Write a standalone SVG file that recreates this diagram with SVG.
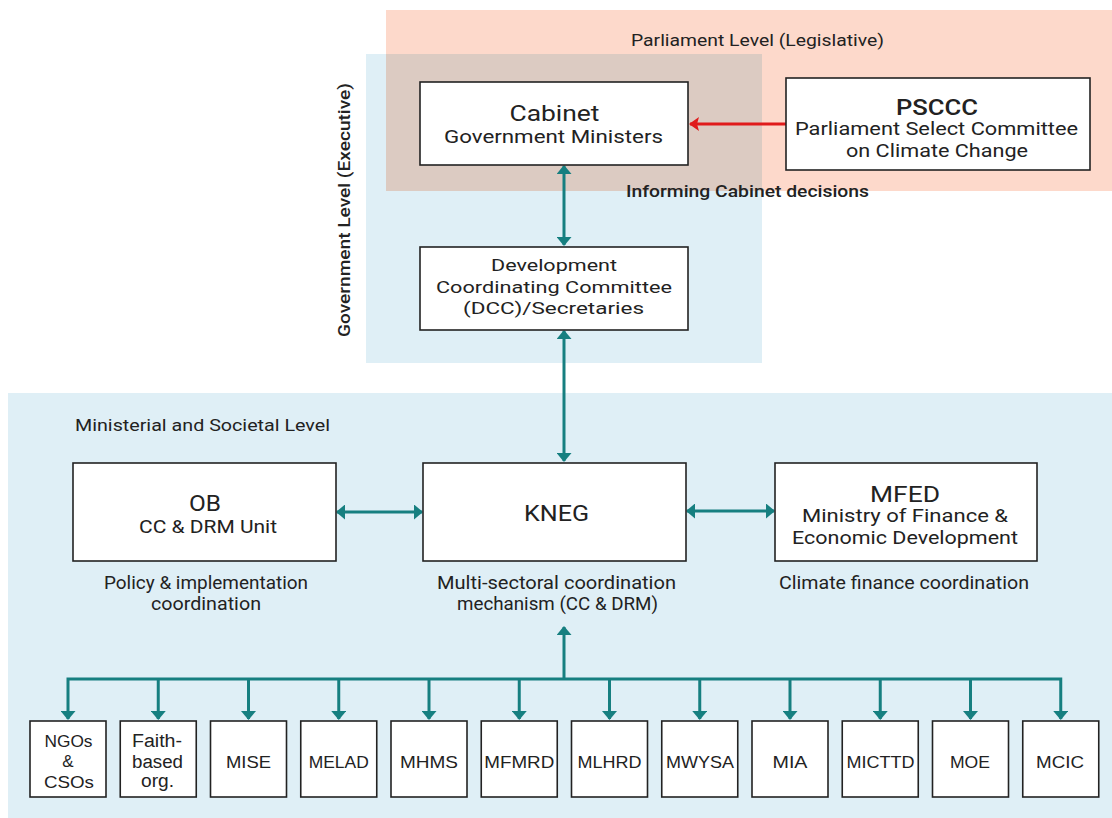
<svg xmlns="http://www.w3.org/2000/svg" width="1112" height="818" viewBox="0 0 1112 818">
<style>
text{font-family:Roboto,"Liberation Sans",sans-serif;fill:#222;text-anchor:middle}
.box{fill:#fff;stroke:#222;stroke-width:1.6}
.t{font-size:22px}
.s{font-size:17.5px}
.c{font-size:16.5px}
.sm{font-size:17px;font-family:"Liberation Sans",Arial,sans-serif}
.con{fill:none;stroke:#167f80;stroke-width:3}
</style>
<defs>
<marker id="ah" viewBox="0 0 9 15" refX="8" refY="7.5" markerWidth="9" markerHeight="15" markerUnits="userSpaceOnUse" orient="auto-start-reverse"><path d="M0,0 L9,7.5 L0,15 z" fill="#167f80"/></marker>
<marker id="ahr" viewBox="0 0 10 14" refX="9" refY="7" markerWidth="10" markerHeight="14" markerUnits="userSpaceOnUse" orient="auto"><path d="M0,0 L10,7 L0,14 L2,7 z" fill="#e01b1b"/></marker>
</defs>
<rect width="1112" height="818" fill="#fff"/>
<g id="regions">
<rect x="386" y="10" width="726" height="181" fill="#fdd9cb"/>
<rect x="366" y="54" width="396" height="309" fill="#dfeff6"/>
<rect x="386" y="54" width="376" height="137" fill="#dccbc2"/>
<rect x="8" y="393" width="1104" height="425" fill="#dfeff6"/>
<text x="757.5" y="46" font-size="17" textLength="253" lengthAdjust="spacingAndGlyphs">Parliament Level (Legislative)</text>
<text transform="translate(350,210) rotate(-90)" font-size="17" font-weight="500" textLength="254" lengthAdjust="spacingAndGlyphs">Government Level (Executive)</text>
<text x="75" y="431" font-size="16" style="text-anchor:start" textLength="255" lengthAdjust="spacingAndGlyphs">Ministerial and Societal Level</text>
</g>
<g id="connectors">
<line class="con" x1="564" y1="166" x2="564" y2="245" marker-start="url(#ah)" marker-end="url(#ah)"/>
<line class="con" x1="564" y1="331" x2="564" y2="461" marker-start="url(#ah)" marker-end="url(#ah)"/>
<line class="con" x1="337" y1="512" x2="422" y2="512" marker-start="url(#ah)" marker-end="url(#ah)"/>
<line class="con" x1="687" y1="511" x2="774" y2="511" marker-start="url(#ah)" marker-end="url(#ah)"/>
<line x1="786" y1="124" x2="690" y2="124" stroke="#e01b1b" stroke-width="3" marker-end="url(#ahr)"/>
<line class="con" x1="564" y1="680" x2="564" y2="627" marker-end="url(#ah)"/>
<polyline class="con" points="68,719 68,679 1060.75,679 1060.75,719" marker-start="url(#ah)" marker-end="url(#ah)"/>
<line class="con" x1="158.25" y1="679" x2="158.25" y2="719" marker-end="url(#ah)"/>
<line class="con" x1="248.5" y1="679" x2="248.5" y2="719" marker-end="url(#ah)"/>
<line class="con" x1="338.75" y1="679" x2="338.75" y2="719" marker-end="url(#ah)"/>
<line class="con" x1="429" y1="679" x2="429" y2="719" marker-end="url(#ah)"/>
<line class="con" x1="519.25" y1="679" x2="519.25" y2="719" marker-end="url(#ah)"/>
<line class="con" x1="609.5" y1="679" x2="609.5" y2="719" marker-end="url(#ah)"/>
<line class="con" x1="699.75" y1="679" x2="699.75" y2="719" marker-end="url(#ah)"/>
<line class="con" x1="790" y1="679" x2="790" y2="719" marker-end="url(#ah)"/>
<line class="con" x1="880.25" y1="679" x2="880.25" y2="719" marker-end="url(#ah)"/>
<line class="con" x1="970.5" y1="679" x2="970.5" y2="719" marker-end="url(#ah)"/>
</g>
<g id="cabinet">
<rect class="box" x="420" y="82" width="268" height="83"/>
<text class="t" x="554.5" y="121" font-size="23" textLength="90" lengthAdjust="spacingAndGlyphs">Cabinet</text>
<text class="s" x="553.5" y="143" textLength="219" lengthAdjust="spacingAndGlyphs">Government Ministers</text>
</g>
<g id="psccc">
<rect class="box" x="786" y="78" width="304" height="92"/>
<text class="t" x="937" y="115" font-weight="500" textLength="82" lengthAdjust="spacingAndGlyphs">PSCCC</text>
<text class="s" x="936.5" y="135" textLength="283" lengthAdjust="spacingAndGlyphs">Parliament Select Committee</text>
<text class="s" x="937" y="157" textLength="182" lengthAdjust="spacingAndGlyphs">on Climate Change</text>
</g>
<text x="747.5" y="197" font-size="17" font-weight="500" textLength="243" lengthAdjust="spacingAndGlyphs">Informing Cabinet decisions</text>
<g id="dcc">
<rect class="box" x="420" y="247" width="268" height="83"/>
<text class="c" x="554" y="271" textLength="126" lengthAdjust="spacingAndGlyphs">Development</text>
<text class="c" x="554" y="293" textLength="236" lengthAdjust="spacingAndGlyphs">Coordinating Committee</text>
<text class="c" x="553.5" y="314" textLength="181" lengthAdjust="spacingAndGlyphs">(DCC)/Secretaries</text>
</g>
<g id="ob">
<rect class="box" x="73" y="463" width="263" height="98"/>
<text class="t" x="205" y="511" textLength="32" lengthAdjust="spacingAndGlyphs">OB</text>
<text class="s" x="208" y="533" textLength="138" lengthAdjust="spacingAndGlyphs">CC &amp; DRM Unit</text>
<text class="s" x="206" y="589" textLength="204" lengthAdjust="spacingAndGlyphs">Policy &amp; implementation</text>
<text class="s" x="206" y="610" textLength="110" lengthAdjust="spacingAndGlyphs">coordination</text>
</g>
<g id="kneg">
<rect class="box" x="423" y="463" width="263" height="98"/>
<text class="t" x="556.5" y="521" font-size="23" textLength="65" lengthAdjust="spacingAndGlyphs">KNEG</text>
<text class="s" x="556.5" y="589" textLength="239" lengthAdjust="spacingAndGlyphs">Multi-sectoral coordination</text>
<text class="s" x="557.5" y="610" textLength="201" lengthAdjust="spacingAndGlyphs">mechanism (CC &amp; DRM)</text>
</g>
<g id="mfed">
<rect class="box" x="775" y="463" width="262" height="98"/>
<text class="t" x="905" y="502" textLength="70" lengthAdjust="spacingAndGlyphs">MFED</text>
<text class="s" x="905" y="522" textLength="206" lengthAdjust="spacingAndGlyphs">Ministry of Finance &amp;</text>
<text class="s" x="905" y="544" textLength="226" lengthAdjust="spacingAndGlyphs">Economic Development</text>
<text class="s" x="904" y="589" textLength="250" lengthAdjust="spacingAndGlyphs">Climate finance coordination</text>
</g>
<g id="ngos">
<rect class="box" x="30" y="721" width="76" height="76"/>
<text class="sm" x="68.5" y="747" textLength="48" lengthAdjust="spacingAndGlyphs">NGOs</text>
<text class="sm" x="68" y="767">&amp;</text>
<text class="sm" x="69" y="788" textLength="50" lengthAdjust="spacingAndGlyphs">CSOs</text>
</g>
<g id="faith">
<rect class="box" x="120.25" y="721" width="76" height="76"/>
<text class="sm" x="157" y="747" style="font-size:18px" textLength="50" lengthAdjust="spacingAndGlyphs">Faith-</text>
<text class="sm" x="157.5" y="767.5" style="font-size:18px" textLength="51" lengthAdjust="spacingAndGlyphs">based</text>
<text class="sm" x="157.5" y="787" style="font-size:18px" textLength="33" lengthAdjust="spacingAndGlyphs">org.</text>
</g>
<g id="mise"><rect class="box" x="210.5" y="721" width="76" height="76"/><text class="sm" x="248.5" y="768" textLength="45" lengthAdjust="spacingAndGlyphs">MISE</text></g>
<g id="melad"><rect class="box" x="300.75" y="721" width="76" height="76"/><text class="sm" x="338.75" y="768" textLength="60" lengthAdjust="spacingAndGlyphs">MELAD</text></g>
<g id="mhms"><rect class="box" x="391" y="721" width="76" height="76"/><text class="sm" x="429" y="768" textLength="58" lengthAdjust="spacingAndGlyphs">MHMS</text></g>
<g id="mfmrd"><rect class="box" x="481.25" y="721" width="76" height="76"/><text class="sm" x="519.25" y="768" textLength="70" lengthAdjust="spacingAndGlyphs">MFMRD</text></g>
<g id="mlhrd"><rect class="box" x="571.5" y="721" width="76" height="76"/><text class="sm" x="609.5" y="768" textLength="64" lengthAdjust="spacingAndGlyphs">MLHRD</text></g>
<g id="mwysa"><rect class="box" x="661.75" y="721" width="76" height="76"/><text class="sm" x="700" y="768" textLength="68" lengthAdjust="spacingAndGlyphs">MWYSA</text></g>
<g id="mia"><rect class="box" x="752" y="721" width="76" height="76"/><text class="sm" x="790" y="768" textLength="35" lengthAdjust="spacingAndGlyphs">MIA</text></g>
<g id="micttd"><rect class="box" x="842.25" y="721" width="76" height="76"/><text class="sm" x="880.5" y="768" textLength="68" lengthAdjust="spacingAndGlyphs">MICTTD</text></g>
<g id="moe"><rect class="box" x="932.5" y="721" width="76" height="76"/><text class="sm" x="970" y="768" textLength="40" lengthAdjust="spacingAndGlyphs">MOE</text></g>
<g id="mcic"><rect class="box" x="1022.75" y="721" width="76" height="76"/><text class="sm" x="1060" y="768" textLength="48" lengthAdjust="spacingAndGlyphs">MCIC</text></g>
</svg>
